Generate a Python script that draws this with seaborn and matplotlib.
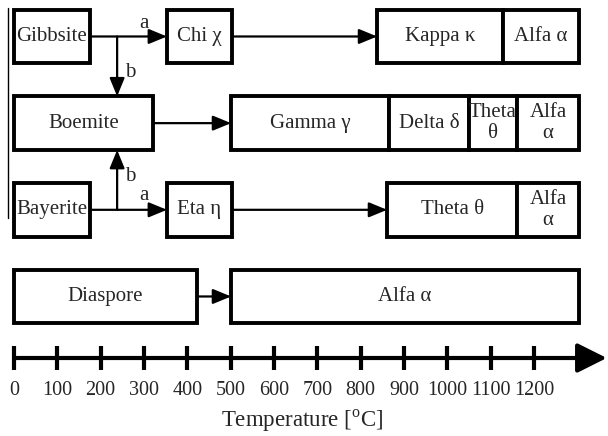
import pandas as pd
import seaborn as sns
import matplotlib.pyplot as plt

# phase boxes: row, label, start / end temperature (C)
seg_row = [0, 0, 0, 0, 1, 1, 1, 1, 1, 2, 2, 2, 2, 3, 3]
seg_label = ['Gibbsite', 'Chi χ', 'Kappa κ', 'Alfa α',
             'Boemite', 'Gamma γ', 'Delta δ', 'Theta\nθ', 'Alfa\nα',
             'Bayerite', 'Eta η', 'Theta θ', 'Alfa\nα',
             'Diaspore', 'Alfa α']
seg_start = [0, 353, 838, 1128,
             0, 501, 865, 1050, 1161,
             0, 353, 861, 1161,
             0, 501]
seg_end = [175, 503, 1128, 1304,
           321, 865, 1050, 1161, 1304,
           175, 503, 1161, 1304,
           422, 1304]

# transitions: (from temp, from row, to temp, to row, label)
arr_x0 = [175, 238, 503, 321, 175, 238, 503, 422]
arr_y0 = [0, 0, 0, 1, 2, 2, 2, 3]
arr_x1 = [353, 238, 838, 501, 353, 238, 861, 501]
arr_y1 = [0, 0.69, 0, 1, 2, 1.31, 2, 3]
arr_lab = ['a', 'b', '', '', 'a', 'b', '', '']
lab_x = [300, 268, 0, 0, 300, 268, 0, 0]
lab_y = [-0.15, 0.41, 0, 0, 1.84, 1.62, 0, 0]

tick_temps = [0, 100, 200, 300, 400, 500, 600, 700, 800, 900, 1000, 1100, 1200]
tick_labels = [str(t) for t in tick_temps]

df = pd.DataFrame({'row': seg_row, 'label': seg_label,
                   'start': seg_start, 'end': seg_end})

sns.set_style('white')
plt.rcParams['font.family'] = ['Liberation Serif', 'DejaVu Serif']
plt.rcParams['mathtext.fontset'] = 'custom'
plt.rcParams['mathtext.rm'] = 'Liberation Serif'

fig = plt.figure(figsize=(6.08, 4.36), dpi=100)
ax = fig.add_axes([0, 0, 1, 1])
ax.set_xlim(-32.3, 1370.8)
ax.set_ylim(4.61, -0.421)
ax.axis('off')

box_h = 0.62
ax.barh(df['row'], df['end'] - df['start'], left=df['start'], height=box_h,
        facecolor='white', edgecolor='black', linewidth=2.8, zorder=2)
for _, r in df.iterrows():
    ax.text((r['start'] + r['end']) / 2, r['row'], r['label'], ha='center',
            va='center', fontsize=15, linespacing=1.1, zorder=3)

# arrows between phases
for i in range(len(arr_x0)):
    ax.annotate('', xy=(arr_x1[i], arr_y1[i]), xytext=(arr_x0[i], arr_y0[i]),
                arrowprops=dict(arrowstyle='-|>,head_length=0.85,head_width=0.35',
                                lw=1.6, color='black', mutation_scale=13,
                                shrinkA=0, shrinkB=0), zorder=1)
    if arr_lab[i]:
        ax.text(lab_x[i], lab_y[i], arr_lab[i], ha='center', va='center',
                fontsize=15)

# thin line on the left
ax.plot([-13.8, -13.8], [-0.33, 2.09], color='black', lw=1)

# temperature axis
axis_y = 3.71
ax.annotate('', xy=(1368, axis_y), xytext=(0, axis_y),
            arrowprops=dict(arrowstyle='-|>,head_length=0.9,head_width=0.45',
                            lw=3, color='black', mutation_scale=20,
                            shrinkA=0, shrinkB=0))
for t, lab in zip(tick_temps, tick_labels):
    ax.plot([t, t], [axis_y - 0.14, axis_y + 0.14], color='black', lw=3,
            solid_capstyle='butt')
    ax.text(t, 4.08, lab, ha='center', va='center', fontsize=14.5)
ax.text(665, 4.43, 'Temperature [$^{\\rm o}$C]', ha='center', va='center',
        fontsize=16.5)

plt.savefig('out.png', dpi=100)
